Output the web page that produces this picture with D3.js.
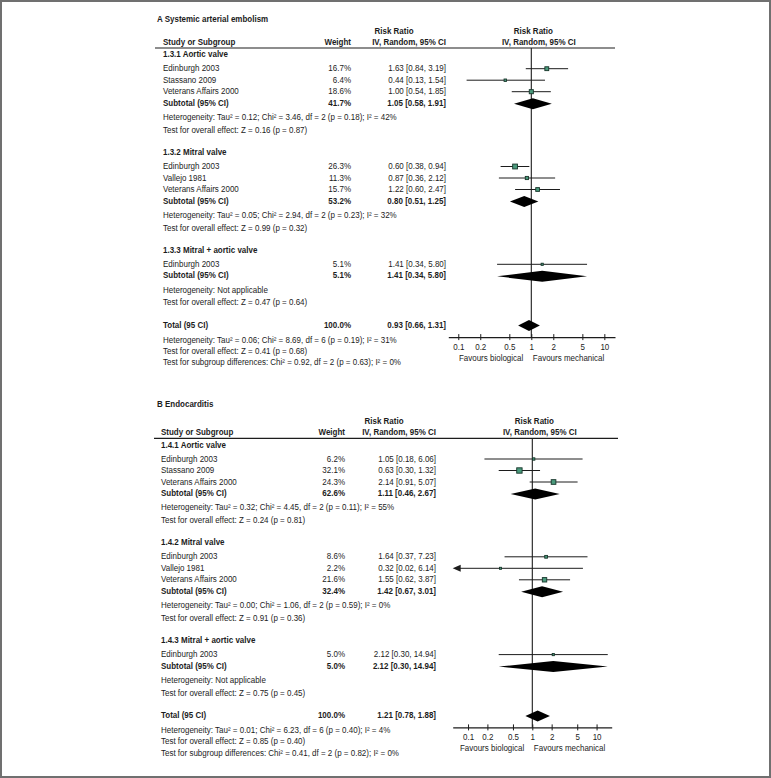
<!DOCTYPE html>
<html>
<head>
<meta charset="utf-8">
<script src="https://cdn.jsdelivr.net/npm/d3@7"></script>
<style>
  body { margin: 0; background: #fff; }
  svg { display: block; font-family: "Liberation Sans", Arial, sans-serif; }
</style>
</head>
<body>
<svg id="chart" width="771" height="778"></svg>
<script>
// ---- data: A Systemic arterial embolism ----
var aTitle = "A Systemic arterial embolism";
var aGroups = ["1.3.1 Aortic valve", "1.3.2 Mitral valve", "1.3.3 Mitral + aortic valve"];
var aStudies = ["Edinburgh 2003", "Stassano 2009", "Veterans Affairs 2000",
                "Edinburgh 2003", "Vallejo 1981", "Veterans Affairs 2000",
                "Edinburgh 2003"];
var aGroupOf = [0, 0, 0, 1, 1, 1, 2];
var aWeight = [16.7, 6.4, 18.6, 26.3, 11.3, 15.7, 5.1];
var aRR   = [1.63, 0.44, 1.00, 0.60, 0.87, 1.22, 1.41];
var aLow  = [0.84, 0.13, 0.54, 0.38, 0.36, 0.60, 0.34];
var aHigh = [3.19, 1.54, 1.85, 0.94, 2.12, 2.47, 5.80];
var aSubWeight = [41.7, 53.2, 5.1];
var aSubRR   = [1.05, 0.80, 1.41];
var aSubLow  = [0.58, 0.51, 0.34];
var aSubHigh = [1.91, 1.25, 5.80];
var aHet = ["Heterogeneity: Tau\u00b2 = 0.12; Chi\u00b2 = 3.46, df = 2 (p = 0.18); I\u00b2 = 42%",
            "Heterogeneity: Tau\u00b2 = 0.05; Chi\u00b2 = 2.94, df = 2 (p = 0.23); I\u00b2 = 32%",
            "Heterogeneity: Not applicable"];
var aTest = ["Test for overall effect: Z = 0.16 (p = 0.87)",
             "Test for overall effect: Z = 0.99 (p = 0.32)",
             "Test for overall effect: Z = 0.47 (p = 0.64)"];
var aTotal = [100.0, 0.93, 0.66, 1.31];   // weight, rr, low, high
var aNotes = ["Heterogeneity: Tau\u00b2 = 0.06; Chi\u00b2 = 8.69, df = 6 (p = 0.19); I\u00b2 = 31%",
              "Test for overall effect: Z = 0.41 (p = 0.68)",
              "Test for subgroup differences: Chi\u00b2 = 0.92, df = 2 (p = 0.63); I\u00b2 = 0%"];

// ---- data: B Endocarditis ----
var bTitle = "B Endocarditis";
var bGroups = ["1.4.1 Aortic valve", "1.4.2 Mitral valve", "1.4.3 Mitral + aortic valve"];
var bStudies = ["Edinburgh 2003", "Stassano 2009", "Veterans Affairs 2000",
                "Edinburgh 2003", "Vallejo 1981", "Veterans Affairs 2000",
                "Edinburgh 2003"];
var bGroupOf = [0, 0, 0, 1, 1, 1, 2];
var bWeight = [6.2, 32.1, 24.3, 8.6, 2.2, 21.6, 5.0];
var bRR   = [1.05, 0.63, 2.14, 1.64, 0.32, 1.55, 2.12];
var bLow  = [0.18, 0.30, 0.91, 0.37, 0.02, 0.62, 0.30];
var bHigh = [6.06, 1.32, 5.07, 7.23, 6.14, 3.87, 14.94];
var bSubWeight = [62.6, 32.4, 5.0];
var bSubRR   = [1.11, 1.42, 2.12];
var bSubLow  = [0.46, 0.67, 0.30];
var bSubHigh = [2.67, 3.01, 14.94];
var bHet = ["Heterogeneity: Tau\u00b2 = 0.32; Chi\u00b2 = 4.45, df = 2 (p = 0.11); I\u00b2 = 55%",
            "Heterogeneity: Tau\u00b2 = 0.00; Chi\u00b2 = 1.06, df = 2 (p = 0.59); I\u00b2 = 0%",
            "Heterogeneity: Not applicable"];
var bTest = ["Test for overall effect: Z = 0.24 (p = 0.81)",
             "Test for overall effect: Z = 0.91 (p = 0.36)",
             "Test for overall effect: Z = 0.75 (p = 0.45)"];
var bTotal = [100.0, 1.21, 0.78, 1.88];
var bNotes = ["Heterogeneity: Tau\u00b2 = 0.01; Chi\u00b2 = 6.23, df = 6 (p = 0.40); I\u00b2 = 4%",
              "Test for overall effect: Z = 0.85 (p = 0.40)",
              "Test for subgroup differences: Chi\u00b2 = 0.41, df = 2 (p = 0.82); I\u00b2 = 0%"];

var tickVals = [0.1, 0.2, 0.5, 1, 2, 5, 10];
var favLeft = "Favours biological", favRight = "Favours mechanical";

// ---- layout ----
var layoutA = {titleX: 157, titleY: 21.5, lineY: 48, nameX: 163, weightX: 351, ciX: 446,
               lineX: [155, 615], axisExt: [0.073, 14], axisPx: [448.3, 615]};
var layoutB = {titleX: 157, titleY: 406.7, lineY: 438.3, nameX: 161, weightX: 345, ciX: 436,
               lineX: [154, 618], axisExt: [0.0577, 17.2], axisPx: [452.7, 611.7]};

var ink = "#1c1c1c";
var boxFill = "#4a9a7c", boxStroke = "#17352a";
var fs = 8.6, squeeze = 0.93;   // slightly condensed face like the original

var svg = d3.select("#chart");

svg.append("rect")
    .attr("x", 1).attr("y", 1).attr("width", 769).attr("height", 776)
    .attr("fill", "none").attr("stroke", "#707070").attr("stroke-width", 2);

var fmtW = function(w) { return d3.format(".1f")(w) + "%"; };
var fmtCI = function(r, l, h) { return r.toFixed(2) + " [" + l.toFixed(2) + ", " + h.toFixed(2) + "]"; };

// text at (x,y), horizontally condensed around its anchor
function txt(g, x, y, s, anchor, bold) {
    return g.append("text")
        .attr("transform", "translate(" + x + "," + y + ") scale(" + squeeze + ",1)")
        .attr("text-anchor", anchor || null)
        .attr("font-weight", bold ? "bold" : null)
        .text(s);
}

function drawPanel(title, groups, studies, groupOf, weight, rr, low, high,
                   subW, subRR, subLow, subHigh, het, test, total, notes, L) {
    var g = svg.append("g").attr("fill", ink).attr("font-size", fs);
    var x = d3.scaleLog().domain(L.axisExt).range(L.axisPx);
    var x1 = x(1);

    // build rows
    var rows = [];
    groups.forEach(function(name, gi) {
        rows.push({type: "group", name: name});
        studies.forEach(function(s, i) {
            if (groupOf[i] === gi)
                rows.push({type: "study", name: s, w: weight[i], rr: rr[i], lo: low[i], hi: high[i]});
        });
        rows.push({type: "sub", name: "Subtotal (95% CI)", w: subW[gi], rr: subRR[gi], lo: subLow[gi], hi: subHigh[gi]});
        rows.push({type: "het", name: het[gi]});
        rows.push({type: "z", name: test[gi]});
    });
    rows.push({type: "total", name: "Total (95 CI)", w: total[0], rr: total[1], lo: total[2], hi: total[3]});
    notes.forEach(function(n) { rows.push({type: "tnote", name: n}); });

    var step = {"study>group": 14, "study>study": 11.5, "sub>study": 11.5, "het>sub": 14.3,
                "z>het": 12.7, "group>z": 22.3, "total>z": 22.3, "tnote>total": 15, "tnote>tnote": 11.3};
    var y = L.lineY + 9.2, prev = null;
    rows.forEach(function(r) {
        if (prev) y += step[r.type + ">" + prev];
        r.y = y;
        prev = r.type;
    });
    var totalY = rows.filter(function(r) { return r.type === "total"; })[0].y;
    var axisY = totalY + 9.5;

    // headers
    txt(g, L.titleX, L.titleY, title, null, true);
    var hy = L.lineY - 3;
    txt(g, L.nameX, hy, "Study or Subgroup", null, true);
    txt(g, L.weightX, hy, "Weight", "end", true);
    txt(g, L.ciX - 52, hy - 11.5, "Risk Ratio", "middle", true);
    txt(g, L.ciX, hy, "IV, Random, 95% CI", "end", true);
    txt(g, x1 + 2, hy - 11.5, "Risk Ratio", "middle", true);
    txt(g, x1 + 7.5, hy, "IV, Random, 95% CI", "middle", true);

    g.append("line")
        .attr("x1", L.lineX[0]).attr("x2", L.lineX[1])
        .attr("y1", L.lineY).attr("y2", L.lineY)
        .attr("stroke", ink).attr("stroke-width", 1.2);

    // text columns
    rows.forEach(function(r) {
        var bold = r.type === "group" || r.type === "sub" || r.type === "total";
        txt(g, L.nameX, r.y, r.name, null, bold);
        if (r.w !== undefined) {
            txt(g, L.weightX, r.y, fmtW(r.w), "end", bold);
            txt(g, L.ciX, r.y, fmtCI(r.rr, r.lo, r.hi), "end", bold);
        }
    });

    // line of no effect
    g.append("line")
        .attr("x1", x1).attr("x2", x1).attr("y1", L.lineY).attr("y2", axisY)
        .attr("stroke", ink).attr("stroke-width", 1.1);

    var my = function(r) { return r.y - 2.5; };

    // study whiskers + boxes
    var st = rows.filter(function(r) { return r.type === "study"; });
    st.forEach(function(r) {
        var clipLo = r.lo < L.axisExt[0], clipHi = r.hi > L.axisExt[1];
        var xa = clipLo ? L.axisPx[0] + 6 : x(r.lo);
        var xb = clipHi ? L.axisPx[1] - 6 : x(r.hi);
        g.append("line").attr("x1", xa).attr("x2", xb).attr("y1", my(r)).attr("y2", my(r))
            .attr("stroke", ink).attr("stroke-width", 1);
        if (clipLo) {
            var t = L.axisPx[0];
            g.append("path").attr("d", "M" + t + "," + my(r) + "L" + (t + 8) + "," + (my(r) - 3.5) +
                "L" + (t + 8) + "," + (my(r) + 3.5) + "Z").attr("fill", ink);
        }
        if (clipHi) {
            var t2 = L.axisPx[1];
            g.append("path").attr("d", "M" + t2 + "," + my(r) + "L" + (t2 - 8) + "," + (my(r) - 3.5) +
                "L" + (t2 - 8) + "," + (my(r) + 3.5) + "Z").attr("fill", ink);
        }
        var s = Math.max(2, Math.sqrt(r.w) * 0.95);
        g.append("rect").attr("x", x(r.rr) - s / 2).attr("y", my(r) - s / 2)
            .attr("width", s).attr("height", s)
            .attr("fill", boxFill).attr("stroke", boxStroke).attr("stroke-width", 0.9);
    });

    // diamonds
    rows.filter(function(r) { return r.type === "sub" || r.type === "total"; }).forEach(function(r) {
        var cy = my(r) + 0.5, h = 5.5;
        g.append("path")
            .attr("d", "M" + x(r.lo) + "," + cy + "L" + x(r.rr) + "," + (cy - h) +
                "L" + x(r.hi) + "," + cy + "L" + x(r.rr) + "," + (cy + h) + "Z")
            .attr("fill", "#000");
    });

    // axis
    var ax = g.append("g").attr("transform", "translate(0," + axisY + ")")
        .call(d3.axisBottom(x).tickValues(tickVals).tickFormat(function(d) { return d; })
            .tickSize(3).tickSizeOuter(0).tickPadding(3.4));
    ax.attr("font-size", fs).attr("font-family", null);
    ax.select(".domain").attr("stroke", ink).attr("stroke-width", 1.1);
    ax.selectAll(".tick line").attr("y1", -3).attr("stroke", ink);
    ax.selectAll(".tick text").attr("fill", ink).attr("transform", "scale(" + squeeze + ",1)");

    txt(g, x1 - 8, axisY + 23.5, favLeft, "end");
    txt(g, x1 + 1.5, axisY + 23.5, favRight);
}

drawPanel(aTitle, aGroups, aStudies, aGroupOf, aWeight, aRR, aLow, aHigh,
          aSubWeight, aSubRR, aSubLow, aSubHigh, aHet, aTest, aTotal, aNotes, layoutA);
drawPanel(bTitle, bGroups, bStudies, bGroupOf, bWeight, bRR, bLow, bHigh,
          bSubWeight, bSubRR, bSubLow, bSubHigh, bHet, bTest, bTotal, bNotes, layoutB);
</script>
</body>
</html>
